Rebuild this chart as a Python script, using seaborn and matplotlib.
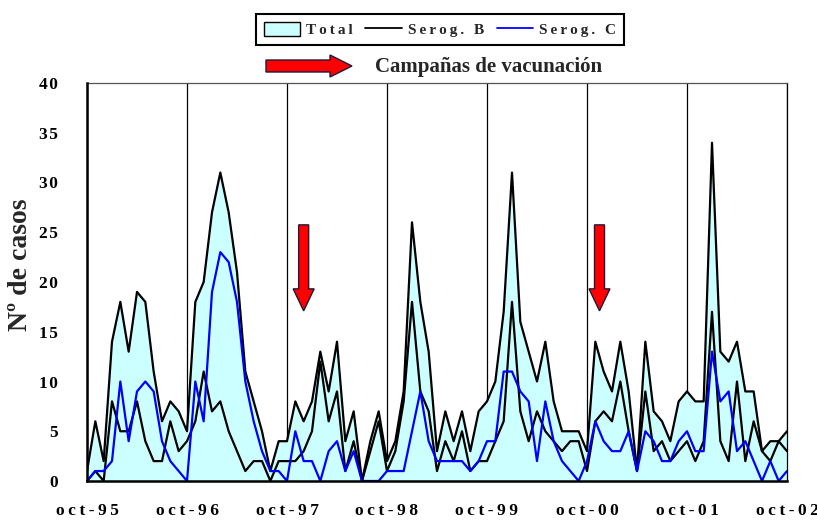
import numpy as np
import pandas as pd
import matplotlib
matplotlib.use("Agg")
import matplotlib.pyplot as plt
import matplotlib.transforms as mtransforms
from matplotlib.patches import Patch, Polygon
from matplotlib.lines import Line2D
import seaborn as sns

# Monthly meningococcal cases, October 1995 - October 2002
total = [1, 6, 2, 14, 18, 13, 19, 18, 11, 6, 8, 7, 5,
         18, 20, 27, 31, 27, 21, 11, 8, 5, 1, 4, 4,
         8, 6, 8, 13, 9, 14, 4, 7, 0, 4, 7, 2,
         4, 9, 26, 18, 13, 3, 7, 4, 7, 3, 7, 8,
         10, 17, 31, 16, 13, 10, 14, 8, 5, 5, 5, 3,
         14, 11, 9, 14, 9, 1, 14, 7, 6, 4, 8, 9,
         8, 8, 34, 13, 12, 14, 9, 9, 3, 4, 4, 5]
serog_b = [0, 1, 0, 8, 5, 5, 8, 4, 2, 2, 6, 3, 4,
           6, 11, 7, 8, 5, 3, 1, 2, 2, 0, 2, 2,
           2, 3, 5, 12, 6, 9, 1, 4, 0, 3, 6, 1,
           3, 8, 18, 9, 7, 1, 4, 2, 5, 1, 2, 2,
           4, 6, 18, 7, 4, 7, 5, 4, 3, 4, 4, 1,
           6, 7, 6, 10, 5, 1, 9, 3, 4, 2, 3, 4,
           2, 4, 17, 4, 2, 10, 2, 6, 3, 2, 4, 3]
serog_c = [0, 1, 1, 2, 10, 4, 9, 10, 9, 4, 2, 1, 0,
           10, 6, 19, 23, 22, 18, 10, 6, 3, 1, 1, 0,
           5, 2, 2, 0, 3, 4, 1, 3, 0, 0, 0, 1,
           1, 1, 5, 9, 4, 2, 2, 2, 2, 1, 2, 4,
           4, 11, 11, 9, 8, 2, 8, 4, 2, 1, 0, 2,
           6, 4, 3, 3, 5, 1, 5, 4, 2, 2, 4, 5,
           3, 3, 13, 8, 9, 3, 4, 2, 0, 2, 0, 1]
tick_labels = ["oct-95", "oct-96", "oct-97", "oct-98", "oct-99", "oct-00", "oct-01", "oct-02"]
series_names = ["Total", "Serog. B", "Serog. C"]
campaign_months = [26, 61.5]
y_ticks = [0, 5, 10, 15, 20, 25, 30, 35, 40]

df = pd.DataFrame({"mes": np.arange(len(total)), "Total": total,
                   "Serog. B": serog_b, "Serog. C": serog_c})

sns.set_theme(style="white")
plt.rcParams["font.family"] = ["Liberation Serif", "DejaVu Serif"]
plt.rcParams["font.weight"] = "bold"


def spaced(s, sep="\u2009"):
    return sep.join(s)


W, H = 817, 522
fig = plt.figure(figsize=(W / 100, H / 100), dpi=100, facecolor="white")
ax = fig.add_axes([87 / W, 1 - 481 / H, 700 / W, (481 - 83) / H])

fill_color = "#CCFFFF"
ax.fill_between(df["mes"], df["Total"], 0, color=fill_color, zorder=2, linewidth=0)
sns.lineplot(data=df, x="mes", y="Total", color="black", linewidth=1.6, ax=ax, zorder=3)
sns.lineplot(data=df, x="mes", y="Serog. B", color="black", linewidth=1.6, ax=ax, zorder=3)
sns.lineplot(data=df, x="mes", y="Serog. C", color="#0000FF", linewidth=1.6, ax=ax, zorder=4)

ax.set_xlim(0, len(total) - 1)
ax.set_ylim(0, 40)
ax.set_xticks(np.arange(0, len(total), 12))
ax.set_xticklabels([spaced(t) for t in tick_labels], fontsize=12.5, fontweight="bold")
ax.set_yticks(y_ticks)
ax.set_yticklabels([spaced(str(v), "\u200a") for v in y_ticks], fontsize=12.5, fontweight="bold")
ax.set_xlabel("")
ax.set_ylabel("")
ax.tick_params(axis="x", length=4, width=1.2, direction="out", pad=12, colors="black")
ax.tick_params(axis="y", length=0, pad=21, colors="black")
ax.set_axisbelow(True)
ax.grid(axis="x", color="black", linewidth=0.9)
ax.grid(axis="y", visible=False)
for side in ["left", "bottom"]:
    ax.spines[side].set_color("black")
    ax.spines[side].set_linewidth(1.8)
    ax.spines[side].set_zorder(5)
ax.spines["top"].set_color("#555555")
ax.spines["top"].set_linewidth(0.9)
ax.spines["right"].set_color("black")
ax.spines["right"].set_linewidth(0.9)

fig.text(21 / W, 1 - 265 / H, "N\u00ba de casos", rotation=90, ha="center", va="center",
         fontsize=20, fontweight="bold")

# Legend
handles = [Patch(facecolor=fill_color, edgecolor="black", linewidth=1.0),
           Line2D([0], [0], color="black", linewidth=1.3),
           Line2D([0], [0], color="#0000FF", linewidth=1.3)]
leg = fig.legend(handles, [spaced(n) for n in series_names], loc="center",
                 bbox_to_anchor=(440 / W, 1 - 29.5 / H), ncol=3, frameon=True,
                 fancybox=False, edgecolor="black", framealpha=1,
                 prop={"size": 11, "weight": "bold"}, handlelength=2.4,
                 handleheight=1.0, columnspacing=0.8, handletextpad=0.4,
                 borderpad=0.5)
leg.get_frame().set_linewidth(1.5)

arrow_red = "#FF0000"
arrow_edge = "#1C1C3A"

# Horizontal arrow beside the vaccination campaign caption (figure pixels)
tip_x, tip_y = 352, H - 66
h_verts = np.array([(0, 0), (-22, 11), (-22, 6), (-86, 6), (-86, -6), (-22, -6), (-22, -11)], float)
h_verts[:, 0] += tip_x
h_verts[:, 1] += tip_y
fig.add_artist(Polygon(h_verts / 100, closed=True, facecolor=arrow_red, edgecolor=arrow_edge,
                       linewidth=1.0, transform=fig.dpi_scale_trans))
fig.text(375 / W, 1 - 67 / H, "Campa\u00f1as de vacunaci\u00f3n", ha="left", va="center",
         fontsize=15, fontweight="bold")

# Downward arrows marking each campaign
d_verts = np.array([(0, 0), (-10.5, 22), (-5, 22), (-5, 86), (5, 86), (5, 22), (10.5, 22)], float) / 100
for m in campaign_months:
    trans = fig.dpi_scale_trans + mtransforms.ScaledTranslation(m, 17.1, ax.transData)
    ax.add_patch(Polygon(d_verts, closed=True, facecolor=arrow_red, edgecolor=arrow_edge,
                         linewidth=1.0, transform=trans, zorder=6, clip_on=False))

fig.savefig("out.png", dpi=100, facecolor="white")
